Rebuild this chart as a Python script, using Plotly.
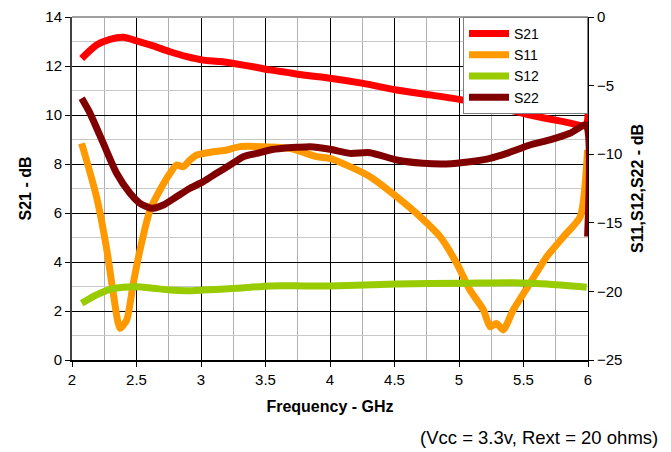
import plotly.graph_objects as go

# S21 (left axis, dB)
s21_f = [2.075, 2.19, 2.295, 2.398, 2.5, 2.63, 2.76, 2.89, 3.018, 3.147, 3.277, 3.405, 3.535, 3.664, 3.793, 4.0,
         4.258, 4.517, 4.775, 5.033, 5.29, 5.55, 5.81, 5.985, 5.997]
s21_v = [12.31, 12.86, 13.09, 13.17, 13.03, 12.82, 12.58, 12.38, 12.24, 12.18, 12.08, 11.97, 11.84, 11.74, 11.63, 11.5,
         11.29, 11.02, 10.82, 10.61, 10.34, 10.0, 9.73, 9.59, 10.89]

# S11 (right axis, dB)
s11_f = [2.075, 2.19, 2.27, 2.32, 2.372, 2.424, 2.475, 2.527, 2.605, 2.682, 2.76, 2.81, 2.863, 2.915, 2.967, 3.095,
         3.2, 3.302, 3.483, 3.69, 3.897, 4.0, 4.155, 4.31, 4.517, 4.698, 4.853, 4.982, 5.085, 5.19, 5.24, 5.29,
         5.343, 5.42, 5.55, 5.68, 5.81, 5.94, 5.997]
s11_v = [-9.21, -13.1, -16.98, -20.14, -22.69, -22.08, -19.41, -16.98, -14.07, -12.61, -11.39, -10.79, -10.91, -10.42,
         -10.06, -9.82, -9.69, -9.45, -9.45, -9.57, -10.18, -10.3, -10.91, -11.64, -13.1, -14.55, -16.01, -17.95,
         -19.9, -21.36, -22.57, -22.33, -22.81, -21.36, -19.41, -17.47, -16.01, -14.55, -9.69]

# S12 (right axis, dB)
s12_f = [2.075, 2.19, 2.295, 2.398, 2.5, 2.63, 2.76, 2.89, 3.018, 3.277, 3.535, 3.793, 4.0, 4.517, 5.033, 5.42,
         5.68, 5.99]
s12_v = [-20.87, -20.26, -19.85, -19.7, -19.66, -19.77, -19.9, -19.95, -19.9, -19.77, -19.6, -19.6, -19.6, -19.46,
         -19.41, -19.37, -19.46, -19.7]

# S22 (right axis, dB)
s22_f = [2.075, 2.14, 2.243, 2.346, 2.45, 2.527, 2.617, 2.708, 2.81, 2.915, 3.018, 3.12, 3.225, 3.328, 3.432, 3.535,
         3.638, 3.742, 3.845, 4.0, 4.155, 4.31, 4.517, 4.72, 4.9, 5.085, 5.24, 5.37, 5.55, 5.705, 5.86, 5.985, 5.997]
s22_v = [-5.93, -7.02, -9.21, -11.39, -12.85, -13.58, -13.94, -13.7, -13.1, -12.48, -12.0, -11.39, -10.79, -10.18,
         -9.94, -9.69, -9.57, -9.5, -9.45, -9.64, -9.94, -9.89, -10.42, -10.66, -10.71, -10.55, -10.3, -9.94, -9.33,
         -8.96, -8.48, -7.87, -16.0]

x_ticks = [2, 2.5, 3, 3.5, 4, 4.5, 5, 5.5, 6]
x_tick_text = ["2", "2.5", "3", "3.5", "4", "4.5", "5", "5.5", "6"]

font = "Liberation Sans, Arial, sans-serif"
pad = "\u00a0" * 11
fig = go.Figure()
lw = 7
fig.add_trace(go.Scatter(x=s21_f, y=s21_v, name="S21" + pad, mode="lines",
                         line=dict(color="#FF0000", width=lw, shape="spline", smoothing=0.6)))
fig.add_trace(go.Scatter(x=s11_f, y=s11_v, name="S11" + pad, mode="lines", yaxis="y2",
                         line=dict(color="#FF9900", width=lw, shape="spline", smoothing=0.6)))
fig.add_trace(go.Scatter(x=s12_f, y=s12_v, name="S12" + pad, mode="lines", yaxis="y2",
                         line=dict(color="#99CC00", width=lw, shape="spline", smoothing=0.6)))
fig.add_trace(go.Scatter(x=s22_f, y=s22_v, name="S22" + pad, mode="lines", yaxis="y2",
                         line=dict(color="#800000", width=lw, shape="spline", smoothing=0.6)))

fig.update_layout(
    width=663, height=444,
    margin=dict(l=64, r=83, t=9, b=92, autoexpand=False),
    paper_bgcolor="white", plot_bgcolor="white",
    font=dict(family=font, size=15, color="black"),
    showlegend=True,
    legend=dict(x=1, y=1, xanchor="right", yanchor="top", bgcolor="white",
                bordercolor="#808080", borderwidth=1, font=dict(size=14),
                tracegroupgap=0, itemwidth=40),
    xaxis=dict(range=[2, 6], tickvals=x_ticks, ticktext=x_tick_text, automargin=False,
               showgrid=True, gridcolor="black", gridwidth=1,
               minor=dict(dtick=0.25, showgrid=True, gridcolor="#B0B0B0", gridwidth=1, ticks=""),
               showline=True, linecolor="black", linewidth=2, mirror=False,
               ticks="outside", ticklen=5, tickcolor="black",
               zeroline=False,
               title=dict(text="<b>Frequency - GHz</b>", font=dict(size=16), standoff=14)),
    yaxis=dict(range=[0, 14], dtick=2, showgrid=True, gridcolor="black", gridwidth=1, automargin=False,
               minor=dict(dtick=1, showgrid=True, gridcolor="#C8C8C8", gridwidth=1, ticks=""),
               showline=True, linecolor="#404040", linewidth=2,
               ticks="outside", ticklen=5, tickcolor="black", zeroline=False,
               title=dict(text="<b>S21 - dB</b>", font=dict(size=16), standoff=10)),
    yaxis2=dict(range=[-25, 0], dtick=5, overlaying="y", side="right", showgrid=False, automargin=False,
                showline=True, linecolor="black", linewidth=1,
                ticks="outside", ticklen=5, tickcolor="black", zeroline=False,
                title=dict(text="<b>S11,S12,S22 - dB</b>", font=dict(size=16), standoff=10)),
    shapes=[dict(type="line", xref="paper", yref="paper", x0=0, x1=1, y0=1, y1=1,
                 line=dict(color="#A0A0A0", width=2))],
    annotations=[dict(text="(Vcc = 3.3v, Rext = 20 ohms)", xref="paper", yref="paper",
                      x=1.1395, y=-0.227, xanchor="right", yanchor="middle", showarrow=False,
                      font=dict(size=18.5))],
)

fig.write_html("out.html")
